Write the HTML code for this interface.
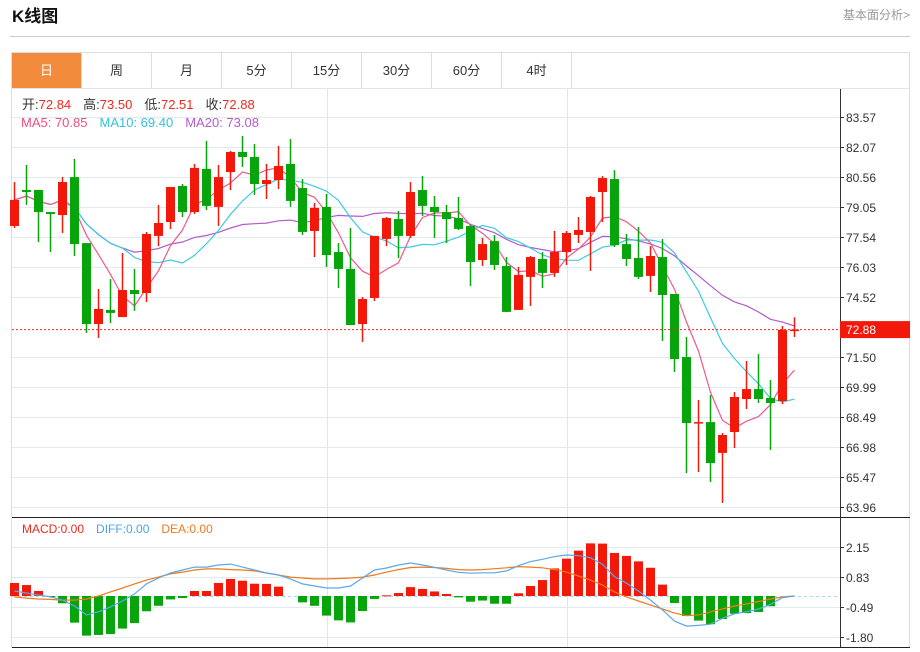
<!DOCTYPE html>
<html><head><meta charset="utf-8"><style>
html,body{margin:0;padding:0;background:#fff;width:920px;height:652px;overflow:hidden}
svg{display:block;font-family:"Liberation Sans","Noto Sans CJK SC",sans-serif}
</style></head><body>
<svg id="c" width="920" height="652" xmlns="http://www.w3.org/2000/svg">
<text x="12" y="22" font-size="17" font-weight="bold" fill="#111">K线图</text>
<text x="910" y="19" font-size="12" fill="#999" text-anchor="end">基本面分析&gt;</text>
<line x1="10" y1="36.5" x2="910" y2="36.5" stroke="#ccc"/>
<rect x="11.5" y="52.5" width="898" height="595" fill="none" stroke="#ddd"/>
<g id="tabs"></g>
<g id="grid"></g>
<g id="plot"></g>
<g id="info">
<text x="22" y="109" font-size="13"><tspan fill="#333">开:</tspan><tspan fill="#f0281e">72.84</tspan><tspan fill="#333" dx="12">高:</tspan><tspan fill="#f0281e">73.50</tspan><tspan fill="#333" dx="12">低:</tspan><tspan fill="#f0281e">72.51</tspan><tspan fill="#333" dx="12">收:</tspan><tspan fill="#f0281e">72.88</tspan></text>
<text x="21" y="127" font-size="13"><tspan fill="#ee4f83">MA5: 70.85</tspan><tspan fill="#2ec4dc" dx="12">MA10: 69.40</tspan><tspan fill="#b45bcc" dx="12">MA20: 73.08</tspan></text>
<text x="22" y="533" font-size="12"><tspan fill="#f0281e">MACD:0.00</tspan><tspan fill="#4aa3ec" dx="12">DIFF:0.00</tspan><tspan fill="#f27a1a" dx="12">DEA:0.00</tspan></text>
</g>
</svg>
<script>
const opens=[78.09,79.90,79.90,78.79,78.64,80.55,77.23,73.16,73.87,73.51,74.87,74.72,77.59,78.29,80.10,78.79,80.96,79.05,80.80,81.81,81.56,80.20,80.40,81.21,80.00,77.84,79.05,76.78,75.93,73.16,74.47,77.44,78.44,77.59,79.90,79.05,78.79,78.49,78.09,76.38,77.33,76.08,73.87,75.53,76.43,75.73,76.78,77.64,77.79,79.80,80.45,77.18,76.48,75.58,76.53,74.67,71.50,68.18,68.23,66.68,67.73,69.39,69.89,69.44,69.29,72.84];
const highs=[80.30,81.16,79.90,78.79,80.55,81.46,77.23,74.92,75.42,76.73,75.93,77.79,79.15,80.05,80.20,81.21,82.36,81.16,81.86,82.61,82.21,81.21,82.11,82.46,80.45,79.25,79.70,77.23,77.99,74.52,77.59,78.54,78.84,80.30,80.60,79.60,79.15,79.55,78.14,77.49,77.64,76.53,76.03,76.58,76.78,77.84,77.84,78.54,79.60,80.60,80.90,77.69,78.04,77.08,77.44,74.67,72.51,69.34,69.59,67.68,69.74,71.30,71.65,70.35,73.06,73.50];
const lows=[77.99,79.15,77.28,76.78,77.74,76.58,72.71,72.46,73.21,73.51,73.82,74.27,77.08,77.94,78.54,78.69,78.89,78.09,79.90,81.06,79.65,79.45,79.95,79.05,77.64,76.53,76.03,74.97,73.11,72.26,74.32,77.08,76.48,77.49,78.59,77.49,77.23,77.89,75.07,76.08,75.88,73.77,73.87,74.07,74.97,75.53,76.13,77.23,75.83,78.29,77.03,76.08,75.42,74.77,72.31,70.75,65.67,65.72,65.22,64.16,66.93,68.89,69.19,66.83,69.14,72.51];
const closes=[79.40,79.80,78.79,78.69,80.30,77.18,73.16,73.92,73.72,74.87,74.67,77.69,78.24,80.05,78.79,81.01,79.10,80.55,81.81,81.56,80.20,80.40,81.11,79.35,77.79,79.00,76.63,75.93,73.11,74.42,77.59,78.49,77.59,79.80,79.10,78.79,78.44,77.94,76.28,77.18,76.13,73.77,75.63,76.53,75.73,76.78,77.74,77.89,79.55,80.50,77.13,76.43,75.53,76.58,74.62,71.40,68.18,68.23,66.17,67.58,69.49,69.89,69.39,69.19,72.86,72.88];
const macdHist=[0.57,0.48,0.22,-0.03,-0.32,-1.17,-1.74,-1.71,-1.67,-1.43,-1.19,-0.67,-0.43,-0.15,-0.09,0.22,0.22,0.57,0.75,0.67,0.54,0.53,0.41,0,-0.28,-0.43,-0.86,-1.07,-1.16,-0.66,-0.13,0.03,0.13,0.39,0.31,0.2,0.09,-0.06,-0.25,-0.2,-0.34,-0.34,0.12,0.44,0.70,1.21,1.64,1.99,2.31,2.30,1.89,1.76,1.52,1.24,0.5,-0.31,-0.88,-1.08,-1.24,-1.01,-0.78,-0.75,-0.70,-0.45,0,0];
const diffLine=[0.22,0.13,0.04,-0.04,-0.18,-0.44,-0.83,-0.70,-0.48,-0.22,0.09,0.53,0.79,1.01,1.14,1.27,1.27,1.36,1.40,1.27,1.14,1.01,0.92,0.75,0.53,0.44,0.35,0.35,0.44,0.79,1.14,1.23,1.36,1.45,1.36,1.26,1.14,1.04,1.0,1.02,1.02,1.10,1.33,1.51,1.61,1.73,1.80,1.77,1.68,1.39,0.85,0.56,0.22,-0.18,-0.61,-1.10,-1.32,-1.29,-1.24,-0.98,-0.78,-0.69,-0.57,-0.37,-0.07,0];
const deaLine=[-0.04,-0.09,-0.13,-0.15,-0.18,-0.18,-0.13,0,0.18,0.35,0.53,0.70,0.83,0.97,1.05,1.14,1.19,1.19,1.16,1.14,1.10,1.01,0.92,0.83,0.79,0.75,0.75,0.77,0.79,0.83,0.92,1.05,1.16,1.25,1.27,1.25,1.21,1.16,1.14,1.16,1.2,1.24,1.29,1.27,1.24,1.16,1.05,0.88,0.70,0.48,0.18,-0.04,-0.22,-0.40,-0.57,-0.75,-0.86,-0.83,-0.70,-0.57,-0.44,-0.35,-0.24,-0.13,-0.04,0];
const priceTicks=[83.57,82.07,80.56,79.05,77.54,76.03,74.52,73.01,71.50,69.99,68.49,66.98,65.47,63.96];
const priceTickLabels=["83.57","82.07","80.56","79.05","77.54","76.03","74.52","","71.50","69.99","68.49","66.98","65.47","63.96"];
const macdTicks=[2.15,0.83,-0.49,-1.80];
const tabLabels=["日","周","月","5分","15分","30分","60分","4时"];
const lastPrice=72.88;

const NS="http://www.w3.org/2000/svg";
function mk(tag,attrs,parent,text){const e=document.createElementNS(NS,tag);for(const k in attrs)e.setAttribute(k,attrs[k]);if(text!==undefined)e.textContent=text;parent.appendChild(e);return e;}
const PMAX=83.57,PMIN=63.96,PY0=117,PY1=507;
const yP=p=>PY0+(PMAX-p)*(PY1-PY0)/(PMAX-PMIN);
const yM=v=>596-v*22.78;
const xI=i=>14.5+i*12;
const RED="#f2180a",GREEN="#08a40b";

// tabs
const tabs=document.getElementById('tabs');
tabLabels.forEach((t,i)=>{
  const x=11.5+i*70;
  const r=mk('rect',{x:x,y:52.5,width:70,height:36,fill:i===0?'#f28c3c':'#fff',stroke:'#ddd'},tabs);
  
  
  const tx=mk('text',{x:x+35,y:75,'font-size':13,'text-anchor':'middle',fill:i===0?'#fff':'#333'},tabs,t);
  
  
});

// grid
const g=document.getElementById('grid');
mk('line',{x1:12,y1:88.5,x2:910,y2:88.5,stroke:'#dde6ee'},g);
[327,567].forEach(x=>{mk('line',{x1:x+.5,y1:89,x2:x+.5,y2:648,stroke:'#dde6ee'},g);});
priceTicks.forEach((p,i)=>{
  const y=Math.round(yP(p))+.5;
  if(priceTickLabels[i]!==""){
    mk('line',{x1:12,y1:y,x2:840,y2:y,stroke:'#e2e9ef'},g);
    mk('line',{x1:840,y1:y,x2:844,y2:y,stroke:'#333'},g);
    const t=mk('text',{x:846,y:y+4.5,'font-size':12,fill:'#333'},g,priceTickLabels[i]);
    
    
  }
});
macdTicks.forEach(v=>{
  const y=Math.round(yM(v))+.5;
  mk('line',{x1:12,y1:y,x2:840,y2:y,stroke:'#e2e9ef'},g);
  mk('line',{x1:840,y1:y,x2:844,y2:y,stroke:'#333'},g);
  const t=mk('text',{x:846,y:y+4.5,'font-size':12,fill:'#333'},g,v.toFixed(2));
  
  
});
mk('line',{x1:840.5,y1:89,x2:840.5,y2:648,stroke:'#333'},g);
mk('line',{x1:12,y1:517.5,x2:910,y2:517.5,stroke:'#222'},g);
mk('line',{x1:12,y1:647.5,x2:910,y2:647.5,stroke:'#222'},g);
mk('line',{x1:12,y1:596.5,x2:838,y2:596.5,stroke:'#a8d8f0','stroke-dasharray':'3,3'},g);

const plot=document.getElementById('plot');
// MA lines
function ma(n){return closes.map((c,i)=>{const s=Math.max(0,i-n+1);let t=0;for(let k=s;k<=i;k++)t+=closes[k];return t/(i-s+1);});}
[[20,'#b45bcc','ma20-line'],[10,'#3ccbe0','ma10-line'],[5,'#ee5a8a','ma5-line']].forEach(([n,col,name])=>{
  const m=ma(n);
  const pl=mk('polyline',{points:m.map((v,i)=>xI(i)+','+yP(v).toFixed(1)).join(' '),fill:'none',stroke:col,'stroke-width':1.2},plot);
  
  
});
// candles
closes.forEach((c,i)=>{
  const o=opens[i],up=c>=o,col=up?RED:GREEN,x=xI(i);
  const w=mk('line',{x1:x,y1:yP(highs[i]),x2:x,y2:yP(lows[i]),stroke:col,'stroke-width':1.5},plot);
  
  
  const top=yP(Math.max(o,c)),bot=yP(Math.min(o,c));
  const b=mk('rect',{x:x-4.5,y:top,width:9,height:Math.max(1.5,bot-top),fill:col},plot);
  
  
});
// last price line
const ly=yP(lastPrice);
const ll=mk('line',{x1:12,y1:ly,x2:840,y2:ly,stroke:'#f0281e','stroke-dasharray':'2,2'},plot);


const lb=mk('rect',{x:840,y:ly-8.5,width:70,height:17,fill:'#f2180a'},plot);


const lt=mk('text',{x:846,y:ly+4.5,'font-size':12,fill:'#fff'},plot,lastPrice.toFixed(2));


// MACD bars
macdHist.forEach((v,i)=>{
  if(v===0)return;
  const y0=yM(0),y1=yM(v);
  const r=mk('rect',{x:xI(i)-4.5,y:Math.min(y0,y1),width:9,height:Math.max(1,Math.abs(y1-y0)),fill:v>0?RED:GREEN},plot);
  
  
});
[[deaLine,'#f27a1a','dea-line'],[diffLine,'#5aa8ec','diff-line']].forEach(([arr,col,name])=>{
  const pl=mk('polyline',{points:arr.map((v,i)=>xI(i)+','+yM(v).toFixed(1)).join(' '),fill:'none',stroke:col,'stroke-width':1.2},plot);
  
  
});
</script>
</body></html>
